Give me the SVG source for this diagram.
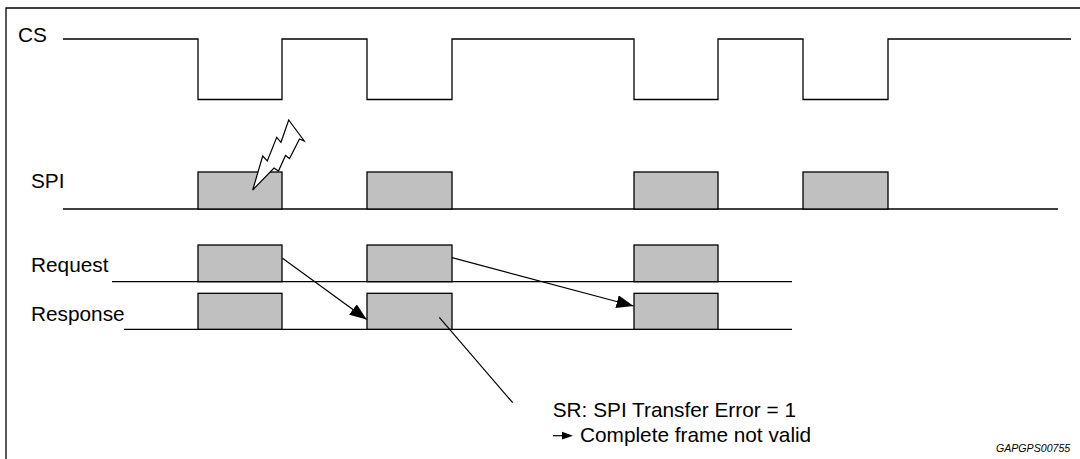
<svg xmlns="http://www.w3.org/2000/svg" width="1080" height="459" viewBox="0 0 1080 459">
<style>
  .sig{fill:none;stroke:#000;stroke-width:1.3}
  .box{fill:#c0c0c0;stroke:#000;stroke-width:1.3}
  .lbl{font-family:"Liberation Sans",Arial,sans-serif;font-size:20.8px;fill:#000}
  .conn{fill:none;stroke:#000;stroke-width:1.2}
  .id{font-family:"Liberation Sans",Arial,sans-serif;font-size:10.6px;font-style:italic;fill:#000}
</style>
<defs>
  <marker id="ah" markerUnits="userSpaceOnUse" markerWidth="20" markerHeight="16" refX="17" refY="6.5" orient="auto">
    <path d="M0,0 L17,6.5 L0,13 Z" fill="#000"/>
  </marker>
</defs>
<rect width="1080" height="459" fill="#fff"/>
<g id="frame">
  <path class="sig" d="M6,470 V8 H1090"/>
</g>
<g id="cs">
  <text class="lbl" x="18" y="42">CS</text>
  <path class="sig" d="M63,39 H198 V99.5 H282 V39 H367 V99.5 H452 V39 H634 V99.5 H718 V39 H803 V99.5 H888 V39 H1071"/>
</g>
<g id="spi">
  <text class="lbl" x="31" y="188">SPI</text>
  <line class="sig" x1="63" y1="209" x2="1058" y2="209"/>
  <rect class="box" x="198" y="172" width="84" height="37"/>
  <rect class="box" x="367" y="172" width="85" height="37"/>
  <rect class="box" x="634" y="172" width="84" height="37"/>
  <rect class="box" x="803" y="172" width="85" height="37"/>
</g>
<g id="bolt">
  <polygon points="252.7,190 262.7,156 267.3,161 276.7,137.3 281,142.3 288.7,120 304.3,141 299.5,139 289.5,158.5 285.5,155.5 278.5,171 274,168" fill="#fff" stroke="#000" stroke-width="1.2" stroke-linejoin="miter"/>
</g>
<g id="request">
  <text class="lbl" x="31" y="271.5">Request</text>
  <line class="sig" x1="112" y1="281.7" x2="792" y2="281.7"/>
  <rect class="box" x="198" y="245" width="84" height="36.7"/>
  <rect class="box" x="367" y="245" width="85" height="36.7"/>
  <rect class="box" x="634" y="245" width="84" height="36.7"/>
</g>
<g id="response">
  <text class="lbl" x="31" y="320.5">Response</text>
  <line class="sig" x1="124" y1="329.3" x2="792" y2="329.3"/>
  <rect class="box" x="198" y="293.3" width="84" height="36"/>
  <rect class="box" x="367" y="293.3" width="85" height="36"/>
  <rect class="box" x="634" y="293.3" width="84" height="36"/>
</g>
<g id="connectors">
  <line class="conn" x1="282.5" y1="258.3" x2="366.7" y2="319.5" marker-end="url(#ah)"/>
  <line class="conn" x1="452" y1="257.7" x2="633.5" y2="306" marker-end="url(#ah)"/>
  <line class="conn" x1="439.3" y1="317.3" x2="512.7" y2="402.7"/>
</g>
<g id="note">
  <text class="lbl" x="552.7" y="417.3">SR: SPI Transfer Error = 1</text>
  <line class="conn" x1="553" y1="435.7" x2="563" y2="435.7"/>
  <polygon points="562,431.8 573,435.7 562,439.6" fill="#000"/>
  <text class="lbl" x="580" y="441.7">Complete frame not valid</text>
</g>
<text class="id" x="996" y="451.7">GAPGPS00755</text>
</svg>
